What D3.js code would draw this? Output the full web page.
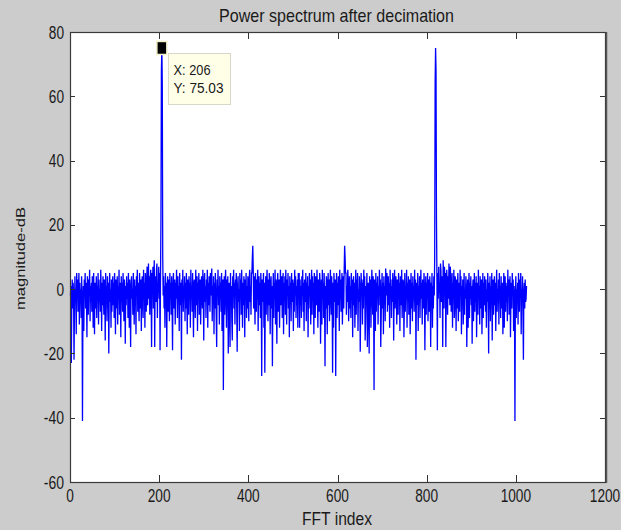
<!DOCTYPE html>
<html>
<head>
<meta charset="utf-8">
<script src="https://cdn.jsdelivr.net/npm/d3@7/dist/d3.min.js"></script>
<style>
  html, body { margin: 0; padding: 0; background: #cccccc; }
  svg { display: block; }
  text { font-family: "Liberation Sans", Arial, sans-serif; fill: #1a1a1a; }
</style>
</head>
<body>
<svg id="chart" width="621" height="530"></svg>
<script>
"use strict";

// axis ticks
const xTicks = [0, 200, 400, 600, 800, 1000, 1200];
const yTicks = [-60, -40, -20, 0, 20, 40, 60, 80];

// magnitude in dB, FFT index 1..513
const magLow = [
  -2, 1, -23, -4, 3, -6, 2, -1, -22, -8, 4, -3, 0, -14, 5, -2,
  3, -7, -1, 5, -11, 2, -4, 0, -9, 4, -2, -41, -5, 1, -13, 3,
  -1, 5, -6, 2, -3, -15, 4, 0, -8, 3, -2, 6, -10, 1, -4, 2,
  -7, 4, -1, -12, 5, -3, -14, 2, 0, -6, 4, -9, 1, -2, 5, -11,
  3, -4, 0, -7, 6, -1, -13, 2, -5, 4, -2, -8, 3, 0, -16, 5,
  -3, 1, -10, 4, -6, 2, -20, -1, 5, -4, 0, -12, 3, -7, 1, 4,
  -5, 2, -9, 5, -2, -14, 3, 0, -6, 4, -11, 1, -3, 6, -8, 2,
  -1, -15, 4, -4, 2, -7, 5, -2, -10, 3, 0, -17, 1, -5, 4, -3,
  2, -9, 5, -1, -12, 3, -6, -18, 1, 4, -3, 0, -8, 5, -2, -11,
  3, -5, 1, -14, 4, -1, 6, -7, 2, -3, -10, 5, 0, -6, 3, -13,
  1, 4, -4, -9, 6, -2, 2, -12, 5, -1, -7, 3, 7, -5, 1, 8,
  -3, 4, -8, 2, 6, -2, -18, 5, 0, 7, -6, 3, 9, -18, 4, 1,
  -4, 6, 8, -9, 2, -1, 7, -3, 5, -19, 3, 22, 68, 75.03, 64, 10,
  -2, 4, -6, 1, -12, 5, -3, 2, -18, 0, 4, -7, 3, -1, -10, 5,
  -2, 2, -8, 4, -4, -19, 1, 5, -6, 0, 3, -11, 2, -3, 6, -1,
  -9, 4, -2, 1, -13, 5, -5, 2, 0, -22, 3, -4, 6, -7, 1, -2,
  4, -10, 2, -6, 5, -1, -14, 3, 0, -8, 4, -3, 2, -12, 6, -2,
  1, -7, 5, -4, -15, 2, 3, -1, -9, 6, 0, -5, 4, -13, 2, -2,
  5, -8, 1, 3, -11, -3, 4, 0, -6, 6, -2, -16, 2, 5, -4, 1,
  -9, 3, -1, 6, -12, 2, -5, 4, 0, -7, 5, -2, 3, 6.4, -10, 1,
  -3, 4, -14, 2, -6, 5, 0, -9, -18, 3, -2, 6, -5, 1, -11, 4,
  -1, 2, -7, 5, -13, 0, 3, -31.4, -4, 4, -8, 1, 6, -2, -12, 3,
  -5, 4, -20, 0, 2, -9, -18, 5, -3, 1, -10, -16, 4, -2, 6, -6,
  2, -11, 3, -1, 5, -7, -19.5, 1, 4, -4, 0, -13, 5, -2, 3, -8,
  6, -1, -12, 2, -5, 4, 0, -15, 3, -3, 5, -9, 1, -6, 4, -2,
  -10, 3, 6, -4, 1, -8, 5, 5, 10, 13.5, 6, -6, 4, -2, -11, 5,
  0, -7, 3, -3, 6, -13, 1, 4, -5, 2, -9, 5, -1, -27, 3, -4,
  0, 5, -12, 2, -26, -3, 4, -8, 1, 6, -2, -10, 3, -5, 5, 0,
  -14, 2, 4, -6, 1, -24, -3, 5, -9, 2, -1, 6, -11, 3, -4, -17,
  2, 5, -7, 0, 3, -12, -2, 6, -5, 1, 4, -9, -1, 5, -14, 2,
  -3, 4, -8, 6, 0, -11, 3, -2, 5, -6, 1, -15, 4, -1, 2, -10,
  5, -4, 0, 3, -13, 2, -7, 6, -2, 4, -9, 1, -5, 3, -12, 5,
  -3
];

// magnitude in dB, FFT index 514..1024
const magHigh = [
  5, -12, 3, -5, 1, -9, 4, -2, 6, -7, 2, -13, 3, 0, -4, 5,
  -10, 2, -1, 4, -15, 1, -6, 5, -2, 3, -11, 0, 6, -8, 4, -3,
  2, -14, 5, -1, -9, 4, 1, -5, 6, -2, -12, 3, 0, -7, 5, 2,
  -17, -4, 3, -11, 6, -1, 2, -9, 5, -3, -24, 1, -6, 4, 2, -14,
  0, 5, -5, 3, -10, -2, 6, 1, -8, 4, -3, -26, 2, -12, 5, 0,
  -4, 3, -27, -1, 5, -9, 2, -5, 4, 1, -13, 6, -3, 3, -7, 0,
  5, -11, -2, 4, -6, 6, 13.5, 10, 5, 5, -8, 1, -4, 6, 3, -10,
  -2, 4, -6, 1, -9, 5, -3, 3, -15, 0, 4, -5, 2, -12, -1, 6,
  -8, 3, -2, 5, -13, 0, -4, 4, 1, -19.5, -7, 5, -1, 3, -11, 2,
  -6, 6, -2, 4, -16, -10, 1, -3, 5, -18, -9, 2, 0, -20, 4, -5,
  3, -12, -2, 6, 1, -8, 4, -4, -31.4, 3, 0, -13, 5, -7, 2, -1,
  4, -11, 1, -5, 6, -2, 3, -18, -9, 0, 5, -6, 2, -14, 4, -3,
  1, -10, 6.4, 3, -2, 5, -7, 0, 4, -5, 2, -12, 6, -1, 3, -9,
  1, -4, 5, 2, -16, -2, 6, -6, 0, 4, -3, -11, 3, 1, -8, 5,
  -2, 2, -13, 4, -5, 0, 6, -9, -1, 3, 2, -15, -4, 5, -7, 1,
  -2, 6, -12, 2, -3, 4, -8, 0, 3, -14, -1, 5, -6, 2, -10, 4,
  -2, 1, -7, 6, -4, 3, -22, 0, 2, -5, 5, -13, 1, -2, 4, -9,
  -1, 6, -3, 2, -11, 3, 0, -6, 5, 1, -19, -4, 4, -8, 2, -2,
  5, -10, -1, 3, -7, 4, 0, -18, 2, -3, 5, -12, 1, -6, 4, -2,
  10, 64, 75.03, 68, 22, 3, -19, 5, -3, 7, -1, 2, -9, 8, 6, -4,
  1, 4, -18, 9, 3, -6, 7, 0, 5, -18, -2, 6, 2, -8, 4, -3,
  8, 1, -5, 7, 3, -7, -1, 5, -12, 2, -2, 6, -9, -4, 4, 1,
  -13, 3, -6, 0, 5, -10, -3, 2, -7, 6, -1, 4, -14, 1, -5, 3,
  -11, -2, 5, -8, 0, -3, 4, 1, -18, -6, 3, -12, -1, 5, -9, 2,
  -3, 4, -5, 1, -17, 0, 3, -10, -2, 5, -7, 2, -4, 4, -15, -1,
  2, -8, 6, -3, 1, -11, 4, -6, 0, 3, -14, -2, 5, -9, 2, -5,
  4, 1, -7, 3, -12, 0, -4, 5, -1, -20, 2, -6, 4, -10, 1, -3,
  5, -16, 0, 3, -8, -2, 4, -5, 2, -13, -1, 6, -7, 0, -4, 3,
  -11, 5, -2, 1, -9, 4, -6, 0, 2, -14, -3, 5, -12, -1, 4, -7,
  2, -4, 1, -10, 6, -2, 3, -8, 0, 4, -15, -3, 2, -6, 5, -1,
  3, -13, 1, -5, -41, -2, 4, -9, 0, -4, 2, -11, 5, -1, -7, 3,
  -2, 5, -14, 0, -3, 4, -8, -22, -1, 2, -6, 3, -4, -3, 1
];

// data tip
const tipX = 206;
const tipY = 75.03;

const magnitude = magLow.concat(magHigh);
const series = magnitude.map((v, i) => ({ k: i + 1, v: v }));

// axes box in pixels
const box = { left: 70, right: 605, top: 32, bottom: 482 };

const x = d3.scaleLinear().domain([0, 1200]).range([box.left, box.right]);
const y = d3.scaleLinear().domain([-60, 80]).range([box.bottom, box.top]);

const svg = d3.select("#chart");

// white plot area
svg.append("rect")
    .attr("x", box.left).attr("y", box.top)
    .attr("width", box.right - box.left).attr("height", box.bottom - box.top)
    .attr("fill", "#ffffff");

// data line
const line = d3.line()
    .x((d) => x(d.k))
    .y((d) => y(d.v));

svg.append("path")
    .datum(series)
    .attr("d", line)
    .attr("fill", "none")
    .attr("stroke", "#0000ff")
    .attr("stroke-width", 1.3);

// ticks, inward on all four sides
const tickCol = "#333333";
const ticks = svg.append("g").attr("stroke", tickCol).attr("stroke-width", 1);

xTicks.forEach((t) => {
  const px = Math.round(x(t)) + 0.5;
  ticks.append("line").attr("x1", px).attr("x2", px).attr("y1", box.bottom).attr("y2", box.bottom - 7);
  ticks.append("line").attr("x1", px).attr("x2", px).attr("y1", box.top).attr("y2", box.top + 7);
});
yTicks.forEach((t) => {
  const py = Math.round(y(t)) + 0.5;
  ticks.append("line").attr("x1", box.left).attr("x2", box.left + 5).attr("y1", py).attr("y2", py);
  ticks.append("line").attr("x1", box.right).attr("x2", box.right - 5).attr("y1", py).attr("y2", py);
});

// box outline
svg.append("rect")
    .attr("x", box.left + 0.5).attr("y", box.top + 0.5)
    .attr("width", box.right - box.left).attr("height", box.bottom - box.top)
    .attr("fill", "none")
    .attr("stroke", "#3a3a3a")
    .attr("stroke-width", 1.2);
svg.append("line")
    .attr("x1", box.right + 1.5).attr("x2", box.right + 1.5)
    .attr("y1", box.top).attr("y2", box.bottom + 1)
    .attr("stroke", "#555555").attr("stroke-width", 1.5);

// tick labels
const labW = (s) => s.replace("-", "").length * 7.6 + (s.indexOf("-") >= 0 ? 5 : 0);

svg.append("g").selectAll("text")
    .data(xTicks)
  .enter().append("text")
    .attr("x", (d) => x(d))
    .attr("y", 502)
    .attr("text-anchor", "middle")
    .attr("font-size", 18)
    .attr("textLength", (d) => labW(String(d)))
    .attr("lengthAdjust", "spacingAndGlyphs")
    .text((d) => d);

svg.append("g").selectAll("text")
    .data(yTicks)
  .enter().append("text")
    .attr("x", (d) => 64 - labW(String(d)))
    .attr("y", (d) => y(d) + 6.5)
    .attr("font-size", 18)
    .attr("textLength", (d) => labW(String(d)))
    .attr("lengthAdjust", "spacingAndGlyphs")
    .text((d) => d);

// title and axis labels
svg.append("text")
    .attr("x", 219).attr("y", 22)
    .attr("font-size", 19)
    .attr("textLength", 235)
    .attr("lengthAdjust", "spacingAndGlyphs")
    .text("Power spectrum after decimation");

svg.append("text")
    .attr("x", 302).attr("y", 525)
    .attr("font-size", 18)
    .attr("textLength", 70)
    .attr("lengthAdjust", "spacingAndGlyphs")
    .text("FFT index");

svg.append("text")
    .attr("transform", "translate(24.5,310) rotate(-90)")
    .attr("font-size", 12)
    .attr("textLength", 103)
    .attr("lengthAdjust", "spacingAndGlyphs")
    .text("magnitude-dB");

// data tip marker and box
const mx = x(tipX), my = y(tipY);
svg.append("rect")
    .attr("x", mx - 5).attr("y", my - 6.5)
    .attr("width", 10).attr("height", 13)
    .attr("fill", "#000000")
    .attr("stroke", "#f2f0c8").attr("stroke-width", 1.5);

const tip = svg.append("g");
tip.append("rect")
    .attr("x", 168.5).attr("y", 53.5)
    .attr("width", 62).attr("height", 51)
    .attr("fill", "#ffffe8")
    .attr("stroke", "#d8d8c8").attr("stroke-width", 1);
tip.append("text")
    .attr("x", 173.5).attr("y", 75)
    .attr("font-size", 15)
    .attr("textLength", 37)
    .attr("lengthAdjust", "spacingAndGlyphs")
    .text("X: " + tipX);
tip.append("text")
    .attr("x", 173.5).attr("y", 92.5)
    .attr("font-size", 15)
    .attr("textLength", 50)
    .attr("lengthAdjust", "spacingAndGlyphs")
    .text("Y: " + tipY.toFixed(2));
</script>
</body>
</html>
